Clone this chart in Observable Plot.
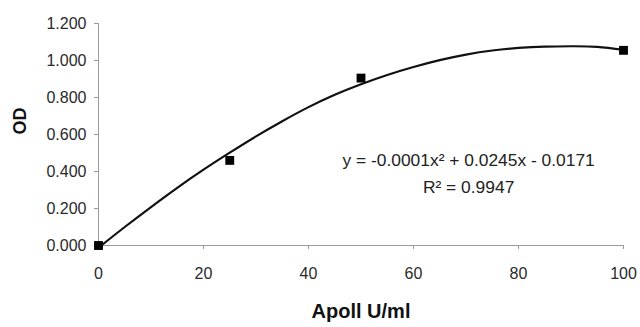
<!DOCTYPE html>
<html>
<head>
<meta charset="utf-8">
<script src="https://cdn.jsdelivr.net/npm/d3@7"></script>
<script src="https://cdn.jsdelivr.net/npm/@observablehq/plot@0.6"></script>
<style>
  html, body { margin: 0; padding: 0; background: #fff; }
  #chart svg { display: block; }
</style>
</head>
<body>
<div id="chart"></div>
<script>
// Measured points
const concentrations = [0, 25, 50, 100];
const odValues = [0.0, 0.46, 0.905, 1.055];

// Trendline
const trendX = [0, 5, 10, 15, 20, 25, 30, 35, 40, 45, 50, 55, 60, 65, 70, 75, 80, 85, 90, 95, 100];
const trendY = [-0.012, 0.100, 0.208, 0.312, 0.410, 0.502, 0.590, 0.672, 0.748, 0.815, 0.872, 0.922, 0.965, 1.002, 1.032, 1.054, 1.068, 1.075, 1.077, 1.074, 1.058];

// Tick labels
const xTicks = [0, 20, 40, 60, 80, 100];
const yTicks = [0, 0.2, 0.4, 0.6, 0.8, 1.0, 1.2];

// Texts
const xTitle = "Apoll U/ml";
const yTitle = "OD";
const equationLines = ["y = -0.0001x² + 0.0245x - 0.0171", "R² = 0.9947"];

const points = concentrations.map((c, i) => ({x: c, y: odValues[i]}));
const trend = trendX.map((x, i) => ({x, y: trendY[i]}));

const font = "'Liberation Sans', Arial, Helvetica, sans-serif";

const chart = Plot.plot({
  width: 640,
  height: 327,
  marginLeft: 98,
  marginRight: 17,
  marginTop: 23,
  marginBottom: 82,
  style: {fontFamily: font, background: "#fff", color: "#222"},
  x: {domain: [0, 100], axis: null},
  y: {domain: [0, 1.2], axis: null},
  marks: [
    Plot.ruleX([0], {stroke: "#9a9a9a", strokeWidth: 1}),
    Plot.ruleY([0], {stroke: "#9a9a9a", strokeWidth: 1}),
    Plot.axisY({ticks: yTicks, tickFormat: d3.format(".3f"), tickSize: 4, tickPadding: 8,
      stroke: "#9a9a9a", fill: "#2a2a2a", fontSize: 16, label: null}),
    Plot.axisX({ticks: xTicks, tickFormat: d3.format("d"), tickSize: 4, tickPadding: 18,
      stroke: "#9a9a9a", fill: "#2a2a2a", fontSize: 16, label: null}),
    Plot.line(trend, {x: "x", y: "y", stroke: "#111", strokeWidth: 2.2, curve: "natural"}),
    Plot.dot(points, {x: "x", y: "y", symbol: "square", r: 5, fill: "#000", stroke: "none"}),
    Plot.text([equationLines.join("\n")], {x: 70.5, y: 0.405, text: d => d, fontSize: 17.4,
      lineHeight: 1.55, fill: "#222", textAnchor: "middle"}),
    Plot.text([xTitle], {frameAnchor: "bottom", dy: 72, text: d => d, fontSize: 20,
      fontWeight: "bold", fill: "#111"}),
    Plot.text([yTitle], {frameAnchor: "left", dx: -78, rotate: -90, text: d => d, fontSize: 18,
      fontWeight: "bold", fill: "#111"})
  ]
});
document.getElementById("chart").appendChild(chart);
</script>
</body>
</html>
